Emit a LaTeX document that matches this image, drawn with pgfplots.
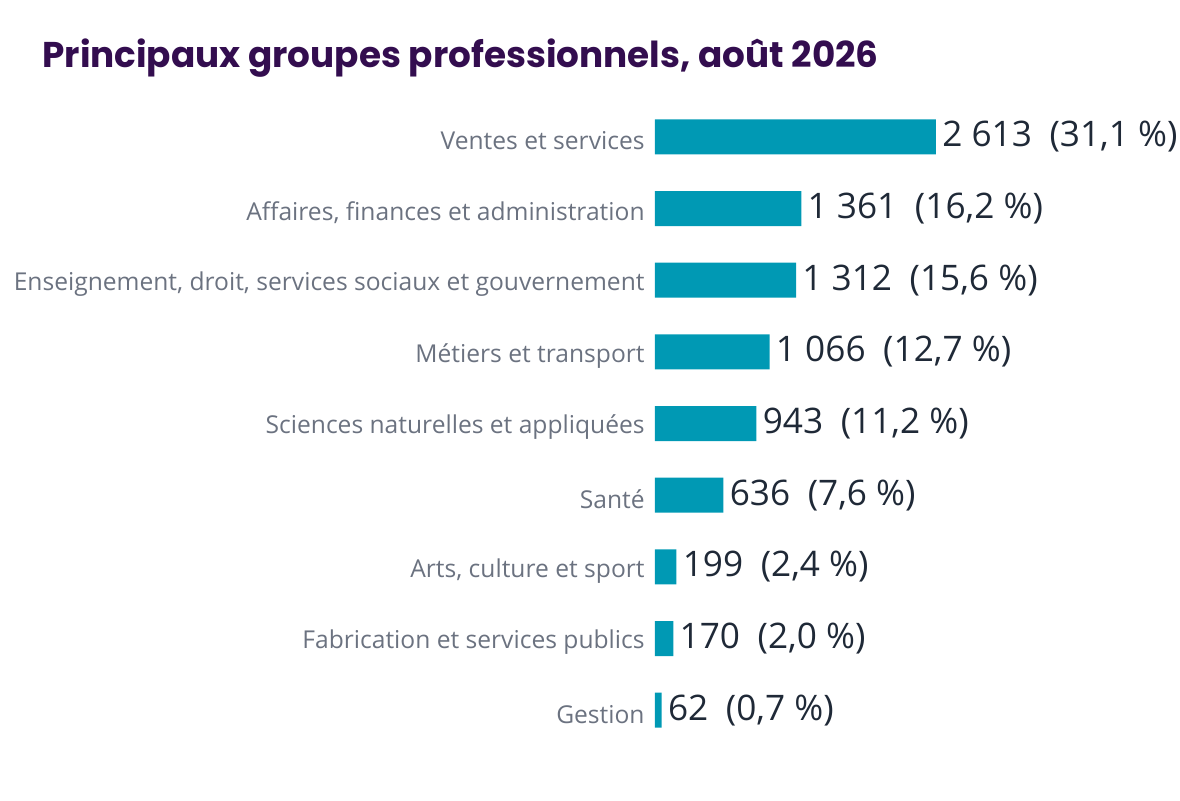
\documentclass[border=0pt]{standalone}
\usepackage{fontspec}
\setmainfont{Open Sans}
\newfontfamily\titlefont{Poppins}
\usepackage{pgfplots}
\pgfplotsset{compat=1.18}
\definecolor{barcol}{RGB}{0,153,180}
\definecolor{titlecol}{RGB}{51,13,79}
\definecolor{labelcol}{RGB}{107,114,128}
\definecolor{valuecol}{RGB}{31,41,55}
\begin{document}
\begin{tikzpicture}[x=1pt,y=1pt]
\path[use as bounding box] (0,0) rectangle (590,400);
\node[anchor=base west, inner sep=0pt, text=titlecol,
      font=\titlefont\bfseries\fontsize{17.9}{21}\selectfont] at (21,366)
      {Principaux groupes professionnels, août 2026};
\begin{axis}[
    at={(327.5pt,27pt)}, anchor=south west,
    width=262.5pt, height=322.5pt, scale only axis,
    xbar, bar width=17.5pt,
    xmin=0, xmax=4884,
    ymin=-0.5, ymax=8.5, y dir=reverse,
    hide x axis,
    axis y line*=left, y axis line style={draw=none},
    major tick length=0pt,
    ytick={0,...,8},
    yticklabels={Ventes et services,
        {Affaires, finances et administration},
        {Enseignement, droit, services sociaux et gouvernement},
        Métiers et transport,
        Sciences naturelles et appliquées,
        Santé,
        {Arts, culture et sport},
        Fabrication et services publics,
        Gestion},
    yticklabel style={anchor=east, inner sep=0pt, xshift=-5pt, yshift=-2pt,
        text=labelcol, font=\fontsize{12.3}{14}\selectfont},
    point meta=explicit symbolic,
    nodes near coords,
    nodes near coords style={anchor=west, inner sep=0pt, xshift=3pt,
        text=valuecol, font=\fontsize{17.6}{20}\selectfont},
    clip=false,
]
\addplot[fill=barcol, draw=none] coordinates {
    (2613,0) [2 613\enspace(31,1 \%)]
    (1361,1) [1 361\enspace(16,2 \%)]
    (1312,2) [1 312\enspace(15,6 \%)]
    (1066,3) [1 066\enspace(12,7 \%)]
    (943,4)  [943\enspace(11,2 \%)]
    (636,5)  [636\enspace(7,6 \%)]
    (199,6)  [199\enspace(2,4 \%)]
    (170,7)  [170\enspace(2,0 \%)]
    (62,8)   [62\enspace(0,7 \%)]
};
\end{axis}
\end{tikzpicture}
\end{document}
